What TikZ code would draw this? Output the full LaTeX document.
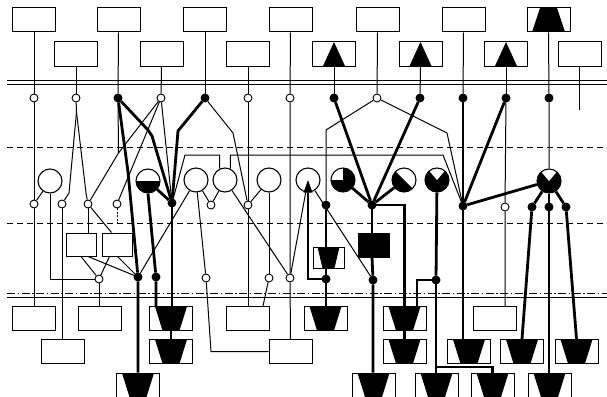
\documentclass[tikz,border=0pt]{standalone}
\usetikzlibrary{calc}
\pgfdeclarelayer{bg}
\pgfsetlayers{bg,main}
\begin{document}
\begin{tikzpicture}[x=1pt,y=-1pt,
 tl/.style={line width=1pt},
 tk/.style={line width=2.8pt},
 guide/.style={line width=0.9pt},
 box/.style={draw,line width=1pt,minimum width=43pt,minimum height=24pt,inner sep=0pt,fill=white},
 mbox/.style={box,minimum width=30pt,minimum height=23pt},
 trapbox/.style={box,path picture={\fill[black] ($(path picture bounding box.north west)+(5.5pt,0pt)$) -- ($(path picture bounding box.north east)+(-5.5pt,0pt)$) -- ($(path picture bounding box.south)+(8.5pt,0pt)$) -- ($(path picture bounding box.south)+(-8.5pt,0pt)$) -- cycle;}},
 mtrapbox/.style={box,minimum width=31pt,minimum height=21pt,path picture={\fill[black] ($(path picture bounding box.north west)+(4.5pt,0pt)$) -- ($(path picture bounding box.north east)+(-4.5pt,0pt)$) -- ($(path picture bounding box.south)+(6pt,0pt)$) -- ($(path picture bounding box.south)+(-6pt,0pt)$) -- cycle;}},
 uptrapbox/.style={box,path picture={\fill[black] ($(path picture bounding box.south west)+(5pt,0pt)$) -- ($(path picture bounding box.south east)+(-5pt,0pt)$) -- ($(path picture bounding box.north)+(8.5pt,0pt)$) -- ($(path picture bounding box.north)+(-8.5pt,0pt)$) -- cycle;}},
 tribox/.style={box,path picture={\fill[black] ($(path picture bounding box.south)+(-11pt,0pt)$) -- (path picture bounding box.north) -- ($(path picture bounding box.south)+(11pt,0pt)$) -- cycle;}},
 blackbox/.style={draw,fill=black,minimum width=31pt,minimum height=24pt,inner sep=0pt},
 oc/.style={circle,draw,fill=white,line width=0.9pt,minimum size=8pt,inner sep=0pt},
 fc/.style={oc,fill=black},
 bc/.style={circle,draw,fill=white,line width=1.1pt,minimum size=24pt,inner sep=0pt},
 halfc/.style={bc,path picture={\fill[black] (path picture bounding box.west) rectangle (path picture bounding box.south east);}},
 piec/.style={bc,path picture={\fill[black] (path picture bounding box.center) -- (path picture bounding box.north) -- (path picture bounding box.north east) -- (path picture bounding box.south east) -- (path picture bounding box.south west) -- (path picture bounding box.west) -- cycle;}},
 diagc/.style={bc,path picture={\fill[black] (path picture bounding box.north west) -- (path picture bounding box.south east) -- (path picture bounding box.south west) -- cycle;}},
 vc/.style={bc,path picture={\fill[black] (path picture bounding box.south west) rectangle (path picture bounding box.north east); \fill[white] (path picture bounding box.center) -- ++(-11pt,13pt) -- ++(22pt,0pt) -- cycle;}}
]
\useasboundingbox (0,0) rectangle (607,396);

% boxes
\node[box] (T1) at (34,20) {};
\node[box] (T2) at (118.5,20) {};
\node[box] (T3) at (205,20) {};
\node[box] (T4) at (290.5,20) {};
\node[box] (T5) at (377.5,20) {};
\node[box] (T6) at (463.5,20) {};
\node[uptrapbox] (T7) at (548.5,20) {};
\node[box] (S1) at (76,54) {};
\node[box] (S2) at (161.5,54) {};
\node[box] (S3) at (248,54) {};
\node[tribox] (S4) at (334,54) {};
\node[tribox] (S5) at (420.5,54) {};
\node[tribox] (S6) at (506,54) {};
\node[box] (S7) at (579.5,54) {};
\node[box] (B1) at (34,318.5) {};
\node[box] (B2) at (99.5,318.5) {};
\node[trapbox] (B3) at (171,318.5) {};
\node[box] (B4) at (248,318.5) {};
\node[trapbox] (B5) at (325.5,318.5) {};
\node[trapbox] (B6) at (404.5,318.5) {};
\node[box] (B7) at (494.5,318.5) {};
\node[box] (C1) at (62.5,351.5) {};
\node[trapbox] (C2) at (171,351.5) {};
\node[box] (C3) at (290.5,351.5) {};
\node[trapbox] (C4) at (404.5,351.5) {};
\node[trapbox] (C5) at (469,351.5) {};
\node[trapbox] (C6) at (522,351.5) {};
\node[trapbox] (C7) at (576.5,351.5) {};
\node[trapbox] (D1) at (138,385) {};
\node[trapbox] (D2) at (373.5,385) {};
\node[trapbox] (D3) at (436.5,385) {};
\node[trapbox] (D4) at (492.5,385) {};
\node[trapbox] (D5) at (549.5,385) {};
\node[mbox] (M1) at (81.5,244.5) {};
\node[mbox] (M2) at (117,244.5) {};
\node[mtrapbox] (M3) at (328.5,257.5) {};
\node[blackbox] (BR) at (373.5,245) {};

% row 1 circles
\node[oc] (c1a) at (34,98) {};
\node[oc] (c1b) at (76,98) {};
\node[fc] (c1c) at (118,98) {};
\node[oc] (c1d) at (161,98) {};
\node[fc] (c1e) at (205,98) {};
\node[oc] (c1f) at (248,98) {};
\node[oc] (c1g) at (290,98) {};
\node[fc] (c1h) at (334,98) {};
\node[oc] (c1i) at (377,98) {};
\node[fc] (c1j) at (420,98) {};
\node[fc] (c1k) at (463,98) {};
\node[fc] (c1l) at (506,98) {};
\node[fc] (c1m) at (549,98) {};
\coordinate (s7e) at (579.5,110);

% big circles
\node[bc] (g1) at (50,181) {};
\node[halfc] (g2) at (148,181) {};
\node[bc] (g3) at (196,180) {};
\node[bc] (g4) at (225,180) {};
\node[bc] (g5) at (269,180) {};
\node[bc] (g6) at (308,180) {};
\node[piec] (g7) at (343,180) {};
\node[diagc] (g8) at (404,180) {};
\node[vc] (g9) at (437,180) {};
\node[vc] (g10) at (549,181) {};

% row 2 circles
\node[oc] (c2a) at (34,204) {};
\node[oc] (c2b) at (62,204) {};
\node[oc] (c2c) at (88,204) {};
\node[oc] (c2d) at (117,204) {};
\node[fc] (c2e) at (172,203) {};
\node[oc] (c2f) at (211,205) {};
\node[oc] (c2g) at (248,205) {};
\node[fc] (c2h) at (326,205) {};
\node[fc] (c2i) at (372,205) {};
\node[fc] (c2j) at (463,206) {};
\node[oc] (c2k) at (505,207) {};
\node[fc] (c2l) at (532,207) {};
\node[fc] (c2m) at (549,207) {};
\node[fc] (c2n) at (566,207) {};
\coordinate (c2dt) at (117,225);

% row 3 circles
\node[oc] (c3a) at (99,279) {};
\node[fc] (c3b) at (138,277) {};
\node[fc] (c3c) at (156,277) {};
\node[oc] (c3d) at (206,278) {};
\node[oc] (c3e) at (269,278) {};
\node[oc] (c3f) at (290,278) {};
\node[fc] (c3g) at (326,279) {};
\node[fc] (c3h) at (373,280) {};
\node[fc] (c3i) at (436,280) {};

% arrow head inside g6
\fill ($(g6.south)+(-4.5pt,0pt)$) -- ($(g6.south)+(4.5pt,0pt)$) -- ($(g6.center)+(0pt,0pt)$) -- cycle;

\begin{pgfonlayer}{bg}
% guide lines
\draw[guide] (7,80) -- (607,80);
\draw[guide] (7,84) -- (607,84);
\draw[guide,dash pattern=on 6pt off 4pt] (7,147) -- (607,147);
\draw[guide,dash pattern=on 6pt off 4pt] (7,223) -- (607,223);
\draw[guide,dash pattern=on 8pt off 2.5pt on 1.5pt off 2.5pt] (7,293) -- (607,293);
\draw[guide] (7,297) -- (607,297);

% thin connectors
\draw[tl] (T1.south) -- (c1a) -- (c2a) -- (B1.north);
\draw[tl] (S1.south) -- (c1b);
\coordinate (s1apex) at (76.5,112);
\draw[tl] (c1b) -- (s1apex) -- (69,193) -- (c2b);
\draw[tl] (s1apex) -- (86,193) -- (c2c);
\draw[tl] (g1) -- (c2a);
\draw[tl] (g1.south) -- (50,279) -- (c3a);
\draw[tl] (c2b) -- (c2b |- C1.north);
\draw[tl] (c2c) -- (c2c |- M1.north);
\draw[tl] (c2c) -- ($(M2.north west)+(10pt,0pt)$);
\draw[tl] (T2.south) -- (c1c);
\coordinate (k1) at (118.5,153);
\draw[tl] (c1c) -- (k1) -- (c2c);
\draw[tl] (S2.south) -- (c1d);
\draw[tl] (c1d) -- (k1);
\draw[tl] (c1d) -- (c2d);
\draw[tl] (c1d) -- (c2e);
\draw[tl,dash pattern=on 2pt off 1.5pt] (c2d) -- (c2dt);
\draw[tl] (T3.south) -- (c1e);
\draw[tl] (c1e) -- (233,133) -- (c2g);
\draw[tl] (S3.south) -- (c1f) -- (c2g) -- (B4.north);
\draw[tl] (T4.south) -- (c1g) -- (c3f) -- (C3.north);
\draw[tl] ($(M1.south west)+(15pt,0pt)$) -- (c3a);
\draw[tl] ($(M1.south west)+(22pt,0pt)$) -- (c3b);
\draw[tl] ($(M2.south west)+(8pt,0pt)$) -- (c3a);
\draw[tl] ($(M2.south west)+(16pt,0pt)$) -- (c3b);
\draw[tl] (c3a) -- (c3a |- B2.north);
\draw[tl] (g3) -- (c2f);
\draw[tl] (g4) -- (c2f);
\draw[tl] (g3) -- (c3d);
\draw[tl] (g3) -- (c3b);
\draw[tl] (g4) -- (c3f);
\draw[tl] (c2e) -- (185,155) -| (g4.115);
\draw[tl] (g4.65) |- (443,155) -- (c2j);
\draw[tl] (g5) -- (c2g);
\draw[tl] (g5) -- (c3e);
\draw[tl] (c3e) -- ($(B4.north east)+(-7pt,0pt)$);
\draw[tl] (c3d) -- ($(c3d |- C3.west)+(5pt,0pt)$) -- (C3.west);
\draw[tl] (g6) -- (c3f);
\draw[tl] (g6) -- (c3h);
\draw[tl] (T5.south) -- (c1i);
\draw[tl] (c1i) -- (326,130) -- (c2h);
\draw[tl] (c1i) -- (447,133) -- (c2j);
\draw[tl] (T6.south) -- (c1k);
\draw[tl] (T7.south) -- (c1m) -- (g10);
\draw[tl] (S4.south) -- (c1h);
\draw[tl] (S5.south) -- (c1j);
\draw[tl] (S6.south) -- (c1l);
\draw[tl] (c1l) -- (c2k) -- (c2k |- B7.north);
\draw[tl] (S7.south) -- (s7e);

% thick connectors
\draw[tk] (c1c) -- (148,130) -- (152,136) -- (c2e);
\draw[tk] (c1c) -- (128,172) -- (c3b) -- (c3b |- D1.north);
\draw[tk] (c1e) -- (178,131) -- (c2e);
\draw[tk] (g2) -- (c2e);
\draw[tk] (g2.south) -- (c3c) -- (c3c |- B3.north);
\draw[tk] (c2e) -- (c2e |- B3.north);
\draw[tk] (B3.south) -- (C2.north);
\draw[tk] (c2h) -- (c2h |- M3.north);
\draw[tk] (c2h |- M3.south) -- (c3g) -- (c3g |- B5.north);
\draw[tk] (c3g) -| (g6.south);
\draw[tk] (c1h) -- (c2i);
\draw[tk] (c1j) -- (c2i);
\draw[tk] (g7) -- (c2i);
\draw[tk] (g8) -- (c2i);
\draw[tk] (c2i) -- (c2i |- BR.north);
\draw[tk] (c2i |- BR.south) -- (c3h) -- (c3h |- D2.north);
\draw[tk] (c2i) -| (B6.north);
\draw[tk] (g9) -- (c3i);
\draw[tk] (c3i) -- (c3i |- D3.north);
\draw[tk] (c3i) -| ($(B6.north)+(12.5pt,0pt)$);
\draw[tk] (B6.south) -- (C4.north);
\coordinate (k2) at (436,367);
\draw[tk] (k2) -| (D4.north);
\draw[tk] (c1k) -- (c2j);
\draw[tk] (c1l) -- (c2j);
\draw[tk] (g10) -- (c2j);
\draw[tk] (c2j) -- (c2j |- C5.north);
\draw[tk] (g10) -- (c2l);
\draw[tk] (g10) -- (c2m);
\draw[tk] (g10) -- (c2n);
\draw[tk] (c2l) -- (C6.north);
\draw[tk] (c2m) -- (c2m |- D5.north);
\draw[tk] (c2n) -- (C7.north);
\end{pgfonlayer}
\end{tikzpicture}
\end{document}
